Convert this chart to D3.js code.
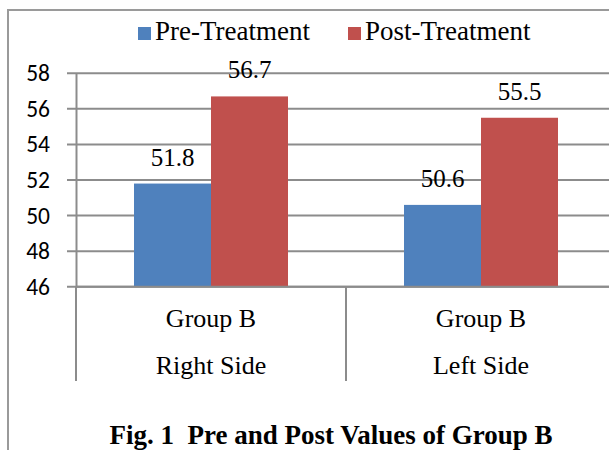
<!DOCTYPE html>
<html><head><meta charset="utf-8">
<script src="https://cdn.jsdelivr.net/npm/d3@7"></script>
<style>body{margin:0;background:#fff}svg{display:block}text{white-space:pre}</style>
</head><body>
<script>
const categoriesLine1 = ["Group B", "Group B"];
const categoriesLine2 = ["Right Side", "Left Side"];
const seriesNames = ["Pre-Treatment", "Post-Treatment"];
const preValues = [51.8, 50.6];
const postValues = [56.7, 55.5];
const yTicks = [46, 48, 50, 52, 54, 56, 58];
const colors = ["#4F81BD", "#C0504D"];
const title = "Fig. 1  Pre and Post Values of Group B";

(function () {
const W = 609, H = 450;
const svg = d3.select("body").append("svg").attr("width", W).attr("height", H);
const serif = "'Liberation Serif','Times New Roman',serif";
const sans = "Carlito,Calibri,Lato,sans-serif";

// outer border
svg.append("rect").attr("x", 8).attr("y", 10).attr("width", 700).attr("height", 600)
  .attr("fill", "none").attr("stroke", "#9a9a9a").attr("stroke-width", 2);

const pLeft = 76, pRight = 616, pTop = 73.3, pBottom = 286.7;
const y = d3.scaleLinear().domain([46, 58]).range([pBottom, pTop]);
const x0 = d3.scaleBand().domain(d3.range(categoriesLine1.length)).range([pLeft, pRight]).paddingInner(0).paddingOuter(0);
const x1 = d3.scaleBand().domain([0, 1]).range([58, x0.bandwidth() - 58]);

// gridlines
svg.append("g").selectAll("line").data(yTicks).join("line")
  .attr("x1", 67).attr("x2", pRight).attr("y1", d => y(d)).attr("y2", d => y(d))
  .attr("stroke", "#8c8c8c").attr("stroke-width", 2);

// y axis
const yAxis = d3.axisLeft(y).tickValues(yTicks).tickSize(0).tickPadding(26);
const ya = svg.append("g").attr("transform", `translate(${pLeft},0)`).call(yAxis);
ya.select(".domain").attr("stroke", "#8c8c8c").attr("stroke-width", 2);
ya.selectAll("text").attr("font-family", sans).attr("font-size", 23.5).attr("fill", "#000");

// bars
const data = categoriesLine1.map((c, i) => [preValues[i], postValues[i]]);
const groups = svg.append("g").selectAll("g").data(data).join("g")
  .attr("transform", (d, i) => `translate(${x0(i)},0)`);
groups.selectAll("rect").data(d => d).join("rect")
  .attr("x", (d, j) => x1(j)).attr("width", x1.bandwidth())
  .attr("y", d => y(d)).attr("height", d => pBottom - y(d))
  .attr("fill", (d, j) => colors[j]);
groups.selectAll("text").data(d => d).join("text")
  .attr("x", (d, j) => x1(j) + x1.bandwidth() / 2).attr("y", d => y(d) - 18)
  .attr("text-anchor", "middle").attr("font-family", serif).attr("font-size", 25)
  .text(d => d.toFixed(1));

// x axis
svg.append("line").attr("x1", pLeft).attr("x2", pRight).attr("y1", pBottom).attr("y2", pBottom)
  .attr("stroke", "#8c8c8c").attr("stroke-width", 2);
const bounds = d3.range(categoriesLine1.length + 1).map(i => i < categoriesLine1.length ? x0(i) : pRight);
svg.append("g").selectAll("line").data(bounds).join("line")
  .attr("x1", d => d).attr("x2", d => d).attr("y1", pBottom).attr("y2", 381)
  .attr("stroke", "#8c8c8c").attr("stroke-width", 2);
const cats = svg.append("g").selectAll("g").data(categoriesLine1).join("g");
cats.append("text").attr("x", (d, i) => x0(i) + x0.bandwidth() / 2).attr("y", 327)
  .attr("text-anchor", "middle").attr("font-family", serif).attr("font-size", 26).text(d => d);
cats.append("text").attr("x", (d, i) => x0(i) + x0.bandwidth() / 2).attr("y", 374)
  .attr("text-anchor", "middle").attr("font-family", serif).attr("font-size", 26)
  .text((d, i) => categoriesLine2[i]);

// legend
const legendX = [138, 348];
const lg = svg.append("g").selectAll("g").data(seriesNames).join("g")
  .attr("transform", (d, i) => `translate(${legendX[i]},0)`);
lg.append("rect").attr("x", 0).attr("y", 27).attr("width", 13).attr("height", 13)
  .attr("fill", (d, i) => colors[i]);
lg.append("text").attr("x", 17).attr("y", 40).attr("font-family", serif).attr("font-size", 27).text(d => d);

// title
svg.append("text").attr("x", 331).attr("y", 444).attr("text-anchor", "middle")
  .attr("font-family", serif).attr("font-weight", "bold").attr("font-size", 27).text(title);
})();
</script>
</body></html>
